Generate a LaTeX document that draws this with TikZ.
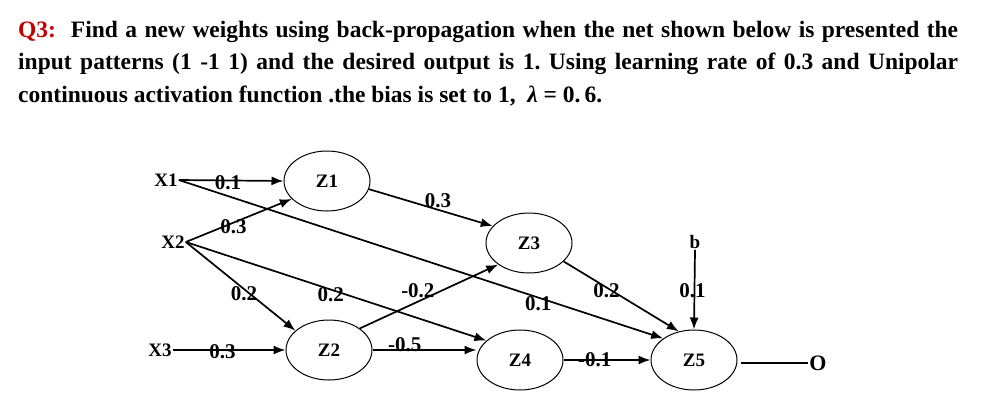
\documentclass[tikz,border=0pt]{standalone}
\usepackage{fontspec}
\setmainfont{Liberation Serif}
\usepackage{amsmath}
\usepackage{xcolor}
\usepackage{tikz}
\usetikzlibrary{arrows.meta, positioning, shapes.geometric}
\definecolor{qred}{RGB}{192,0,0}
\def\bigbf{\fontsize{23.5}{32}\selectfont\bfseries\frenchspacing}
\def\labbf{\fontsize{19}{22}\selectfont\bfseries}

\begin{document}
\begin{tikzpicture}[x=1pt, y=-1pt,
    neuron/.style={draw, ellipse, line width=1pt, minimum width=86pt, minimum height=60pt, font=\labbf},
    inp/.style={font=\labbf, inner sep=1pt},
    wt/.style={font=\fontsize{21}{22}\selectfont\bfseries, inner sep=0pt},
    conn/.style={line width=1.7pt, -{Latex[length=12pt, width=9pt]}}]
  \useasboundingbox (0,0) rectangle (1004,418);
  % question text
  \node[anchor=base west, inner sep=0pt, font=\bigbf] (q1) at (18,37)
    {\makebox[940pt][s]{\textcolor{qred}{Q3:}\ \ Find a new weights using back-propagation when the net shown below is presented the}};
  \node[anchor=base west, inner sep=0pt, font=\bigbf] (q2) at (18,69)
    {\makebox[940pt][s]{input patterns (1 -1 1) and the desired output is 1. Using learning rate of 0.3 and Unipolar}};
  \node[anchor=base west, inner sep=0pt, font=\bigbf] (q3) at (18,102)
    {continuous activation function .the bias is set to 1,\ \ \textit{λ} = 0.\,6.};
  % inputs and neurons
  \node[inp] (x1) at (166,180) {X1};
  \node[inp] (x2) at (173,242) {X2};
  \node[inp] (x3) at (160,350) {X3};
  \node[neuron] (z1) at (327,181) {Z1};
  \node[neuron] (z2) at (329,350) {Z2};
  \node[neuron] (z3) at (529,243) {Z3};
  \node[neuron] (z4) at (520,360) {Z4};
  \node[neuron] (z5) at (694,360) {Z5};
  \node[inp] (b) at (695,242) {b};
  \node[inp, font=\fontsize{22}{24}\selectfont\bfseries] (o) at (818,363) {O};
  % weighted connections
  \foreach \a/\b/\w/\p/\dx/\dy [count=\i] in {
      x1.east/z1.west/0.1/0.47/0/-2,
      x1.east/z5.145/0.1/0.742/0/-6,
      x2.east/z1.207/0.3/0.45/0/-4,
      x2.east/z2.150/0.2/0.554/-2.5/-3,
      x2.east/z4.150/0.2/0.487/-1.5/-5,
      x3.east/z2.west/0.3/0.44/0/-2,
      z1.-11/z3.155/0.3/0.541/2/8,
      z2.35/z3.215/-0.2/0.4485/-4/9,
      z3.-28/z5.118/0.2/0.386/-1.5/-2,
      b.south/z5.north/0.1/0.51/-2/0,
      z4.east/z5.west/-0.1/0.36/0/0}
    \draw[conn] (\a) -- (\b) node[wt, pos=\p, xshift=\dx pt, yshift=\dy pt] (w\i) {\w};
  \draw[conn] (z2.east) -- (z2.east -| z4.west) node[wt, pos=0.31, yshift=5pt] (w12) {-0.5};
  \draw[line width=1.2pt] ([xshift=3pt]o.west -| z5.east) -- (o.west);
\end{tikzpicture}
\end{document}
